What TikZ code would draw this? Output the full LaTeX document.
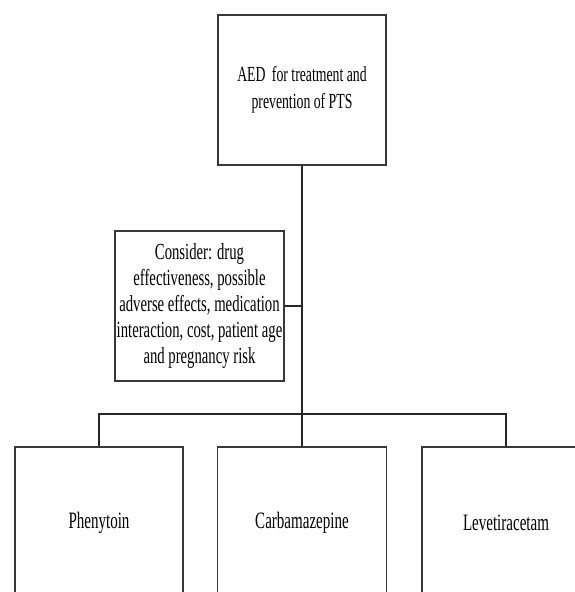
\documentclass[tikz,border=0pt]{standalone}
\usepackage{fontspec}
\setmainfont{Liberation Serif}[FakeStretch=0.64]
\begin{document}
\begin{tikzpicture}[x=1pt,y=-1pt,
  box/.style={draw=black!78, line width=1.4pt, inner sep=0pt, align=center, fill=white},
  conn/.style={draw=black!85, line width=1.3pt}]
\useasboundingbox (0,0) rectangle (574,592);
\node[box, minimum width=168pt, minimum height=150pt, font=\fontsize{21.5}{27}\selectfont] (top) at (302,90) {AED\hspace{0.3em}for treatment and\\prevention of PTS};
\node[box, minimum width=169pt, minimum height=150pt, font=\fontsize{23}{25.8}\selectfont] (consider) at (199.5,306) {Consider: drug\\effectiveness, possible\\adverse effects, medication\\interaction, cost, patient age\\and pregnancy risk};
\node[box, minimum width=168pt, minimum height=152pt, font=\fontsize{23.5}{28}\selectfont] (c1) at (99,523) {Phenytoin};
\node[box, minimum width=169pt, minimum height=152pt, font=\fontsize{23.5}{28}\selectfont] (c2) at (302,523) {Carbamazepine};
\node[box, minimum width=168pt, minimum height=152pt, font=\fontsize{23.5}{28}\selectfont] (c3) at (506,523) {Levetiracetam};
\coordinate (bar) at (302,414);
\draw[conn] (top.south) -- (c2.north);
\draw[conn] (consider.east) -- (consider.east -| top.south);
\draw[conn] (c1.north) |- (bar) -| (c3.north);
\end{tikzpicture}
\end{document}
